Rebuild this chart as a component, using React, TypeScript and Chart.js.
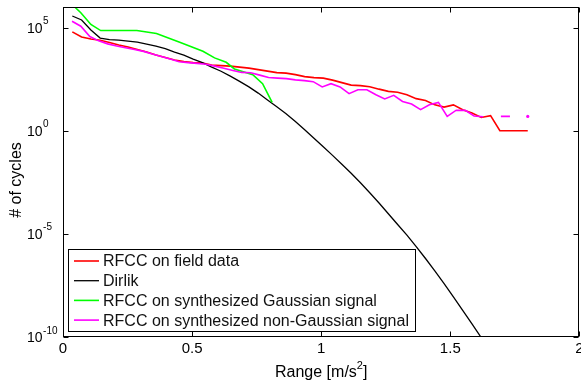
import { useEffect, useRef } from 'react';
import { Chart, registerables } from 'chart.js';

Chart.register(...registerables);

const FONT = '"Liberation Sans", Arial, Helvetica, sans-serif';

// Range bins of the field data (m/s^2)
const RANGE_FIELD = [
  0.036, 0.072, 0.108, 0.144, 0.18, 0.216, 0.252, 0.288, 0.324, 0.36,
  0.396, 0.432, 0.468, 0.504, 0.54, 0.576, 0.612, 0.648, 0.684, 0.72,
  0.756, 0.792, 0.828, 0.864, 0.9, 0.936, 0.972, 1.008, 1.044, 1.08,
  1.116, 1.152, 1.188, 1.224, 1.26, 1.296, 1.332, 1.368, 1.404, 1.44,
  1.476, 1.512, 1.548, 1.584, 1.62, 1.656, 1.692, 1.728, 1.764, 1.8,
];

// Range bins of the synthesized signals
const RANGE_SYNTH = [
  0.035, 0.069, 0.104, 0.138, 0.173, 0.208, 0.242, 0.277, 0.312, 0.346,
  0.381, 0.415, 0.45, 0.485, 0.519, 0.554, 0.588, 0.623, 0.658, 0.692,
  0.727, 0.762, 0.796, 0.831, 0.865, 0.9, 0.935, 0.969, 1.004, 1.038,
  1.073, 1.108, 1.142, 1.177, 1.212, 1.246, 1.281, 1.315, 1.35, 1.385,
  1.419, 1.454, 1.488, 1.523, 1.558, 1.592, 1.627, 1.662, 1.696, 1.731,
  1.765, 1.8,
];

const RFCC_FIELD = [
  6.25e4, 3.49e4, 2.79e4, 2.44e4, 1.89e4, 1.43e4, 1.14e4, 8630, 6520, 4670,
  3520, 2670, 2250, 2010, 1910, 1520, 1440, 1360, 1220, 1090,
  920, 778, 658, 622, 526, 421, 376, 356, 284, 215,
  163, 154, 137, 104, 81, 74, 56, 36, 29, 18,
  14, 18, 10.5, 7.2, 4.4, 5.4, 1, 1, 1, 1,
];

const DIRLIK = [
  3.66e5, 2.34e5, 7.64e4, 3.13e4, 2.64e4, 2.5e4, 2.23e4, 2.0e4, 1.6e4, 1.28e4,
  9600, 6520, 4670, 2980, 2010, 1220, 769, 443, 249, 134,
  67.0, 31.3, 14.7, 6.7, 2.79, 1.11, 0.432, 0.168, 0.064, 0.0238,
  8.63e-3, 2.99e-3, 9.91e-4, 3.13e-4, 9.46e-5, 2.86e-5, 8.63e-6, 2.43e-6, 6.4e-7, 1.61e-7,
  3.85e-8, 8.83e-9, 1.98e-9, 4.33e-10, 9.25e-11, 1.93e-11,
];

const GAUSS_X = [0.036, 0.069, 0.108, 0.146, 0.286, 0.362, 0.452, 0.542, 0.587, 0.632, 0.664, 0.735, 0.773, 0.81];
const RFCC_GAUSS = [1.3e6, 5.24e5, 1.42e5, 7.2e4, 7.2e4, 5.17e4, 1.95e4, 7130, 3410, 2080, 996, 526, 192, 23.7];

const RFCC_NONGAUSS: (number | null)[] = [
  2.05e5, 1.17e5, 3.7e4, 2.28e4, 1.63e4, 1.28e4, 1.06e4, 8630, 7050, 5210,
  3940, 2980, 2200, 2010, 1840, 1670, 1360, 1080, 841, 673,
  644, 498, 385, 356, 336, 294, 269, 240, 133, 192,
  133, 62.8, 98, 98, 56, 34.7, 51.9, 26.5, 19.8, 10.5,
  18.3, 23.7, 4.95, 9.9, 9.7, 5.2, 4.8, null, 4.95, 4.95,
  null, 4.95,
];

const X_TICKS = [0, 0.5, 1, 1.5, 2];
const X_TICK_LABELS = ['0', '0.5', '1', '1.5', '2'];
const Y_TICK_EXPONENTS = [5, 0, -5, -10];

const SERIES_LABELS = [
  'RFCC on field data',
  'Dirlik',
  'RFCC on synthesized Gaussian signal',
  'RFCC on synthesized non-Gaussian signal',
];
const SERIES_COLORS = ['#ff0000', '#000000', '#00ff00', '#ff00ff'];

const matlabAxes = {
  id: 'matlabAxes',
  beforeDraw(chart: any) {
    const { ctx, width, height } = chart;
    ctx.save();
    ctx.fillStyle = '#ffffff';
    ctx.fillRect(0, 0, width, height);
    ctx.restore();
  },
  afterDraw(chart: any) {
    const { ctx, chartArea: a, scales } = chart;
    const xs = scales.x;
    const ys = scales.y;
    const L = Math.round(a.left) + 0.5;
    const R = Math.round(a.right) - 0.5;
    const T = Math.round(a.top) + 0.5;
    const B = Math.round(a.bottom) - 0.5;
    ctx.save();
    ctx.strokeStyle = '#000';
    ctx.lineWidth = 1;
    ctx.strokeRect(L, T, R - L, B - T);
    const tl = 5;
    ctx.beginPath();
    X_TICKS.forEach((v) => {
      const px = Math.round(xs.getPixelForValue(v)) + 0.5;
      ctx.moveTo(px, B);
      ctx.lineTo(px, B - tl);
      ctx.moveTo(px, T);
      ctx.lineTo(px, T + tl);
    });
    Y_TICK_EXPONENTS.forEach((e) => {
      const py = Math.round(ys.getPixelForValue(Math.pow(10, e))) + 0.5;
      ctx.moveTo(L, py);
      ctx.lineTo(L + tl, py);
      ctx.moveTo(R, py);
      ctx.lineTo(R - tl, py);
    });
    ctx.stroke();

    ctx.fillStyle = '#000';
    // x tick labels
    ctx.font = `15px ${FONT}`;
    ctx.textAlign = 'center';
    ctx.textBaseline = 'alphabetic';
    X_TICKS.forEach((v, i) => {
      ctx.fillText(X_TICK_LABELS[i], xs.getPixelForValue(v), 353);
    });
    // y tick labels 10^e
    ctx.textAlign = 'left';
    Y_TICK_EXPONENTS.forEach((e) => {
      const py = ys.getPixelForValue(Math.pow(10, e));
      ctx.font = `14px ${FONT}`;
      ctx.fillText('10', 27, py + 5);
      const w = ctx.measureText('10').width;
      ctx.font = `10px ${FONT}`;
      ctx.fillText(String(e), 27 + w + 0.5, py - 3.5);
    });
    // x title
    const cx = (a.left + a.right) / 2;
    ctx.font = `16px ${FONT}`;
    const p1 = 'Range [m/s';
    const p3 = ']';
    const w1 = ctx.measureText(p1).width;
    const w3 = ctx.measureText(p3).width;
    ctx.font = `11px ${FONT}`;
    const w2 = ctx.measureText('2').width;
    const sx = cx - (w1 + w2 + w3) / 2;
    ctx.font = `16px ${FONT}`;
    ctx.fillText(p1, sx, 376.5);
    ctx.font = `11px ${FONT}`;
    ctx.fillText('2', sx + w1, 369);
    ctx.font = `16px ${FONT}`;
    ctx.fillText(p3, sx + w1 + w2, 376.5);
    // y title
    ctx.save();
    ctx.translate(21, 180);
    ctx.rotate(-Math.PI / 2);
    ctx.textAlign = 'center';
    ctx.fillText('# of cycles', 0, 0);
    ctx.restore();

    // legend
    const lx = 68.5, ly = 249.5, lw = 347, lh = 82;
    ctx.fillStyle = '#ffffff';
    ctx.fillRect(lx, ly, lw, lh);
    ctx.strokeStyle = '#000';
    ctx.lineWidth = 1;
    ctx.strokeRect(lx, ly, lw, lh);
    ctx.font = `16px ${FONT}`;
    ctx.textBaseline = 'middle';
    ctx.textAlign = 'left';
    chart.data.datasets.forEach((ds: any, i: number) => {
      const ry = 261 + i * 19.7;
      ctx.strokeStyle = ds.borderColor;
      ctx.lineWidth = ds.borderWidth;
      ctx.beginPath();
      ctx.moveTo(74, ry);
      ctx.lineTo(99, ry);
      ctx.stroke();
      ctx.fillStyle = '#111';
      ctx.fillText(ds.label, 103, ry + 1);
    });
    ctx.restore();
  },
};

export default function App() {
  const ref = useRef<HTMLCanvasElement>(null);
  useEffect(() => {
    document.body.style.margin = '0';
    const canvas = ref.current;
    if (!canvas) return;
    const isolated = (ctx: any) => {
      const i = ctx.dataIndex;
      const d = RFCC_NONGAUSS;
      if (d[i] == null) return 0;
      const prev = i > 0 ? d[i - 1] : null;
      const next = i < d.length - 1 ? d[i + 1] : null;
      return prev == null && next == null ? 1.6 : 0;
    };
    const chart = new Chart(canvas, {
      type: 'line',
      data: {
        datasets: [
          {
            label: SERIES_LABELS[0],
            data: RANGE_FIELD.map((x, i) => ({ x, y: RFCC_FIELD[i] })),
            borderColor: SERIES_COLORS[0],
            borderWidth: 1.6,
            order: 4,
          },
          {
            label: SERIES_LABELS[1],
            data: DIRLIK.map((y, i) => ({ x: RANGE_FIELD[i], y })),
            borderColor: SERIES_COLORS[1],
            borderWidth: 1.3,
            order: 3,
          },
          {
            label: SERIES_LABELS[2],
            data: GAUSS_X.map((x, i) => ({ x, y: RFCC_GAUSS[i] })),
            borderColor: SERIES_COLORS[2],
            borderWidth: 1.6,
            order: 2,
          },
          {
            label: SERIES_LABELS[3],
            data: RANGE_SYNTH.map((x, i) => ({ x, y: RFCC_NONGAUSS[i] })),
            borderColor: SERIES_COLORS[3],
            backgroundColor: SERIES_COLORS[3],
            borderWidth: 1.6,
            order: 1,
            spanGaps: false,
            pointRadius: isolated,
            pointBorderWidth: 0,
          },
        ] as any,
      },
      options: {
        responsive: false,
        devicePixelRatio: 1,
        animation: false,
        events: [],
        layout: { padding: { top: 7, right: 1, left: 0, bottom: 0 } },
        elements: {
          line: { tension: 0, fill: false },
          point: { radius: 0, hoverRadius: 0 },
        },
        plugins: {
          legend: { display: false },
          tooltip: { enabled: false },
        },
        scales: {
          x: {
            type: 'linear',
            min: 0,
            max: 2,
            ticks: { display: false },
            grid: { display: false },
            border: { display: false },
            afterFit: (s: any) => {
              s.height = 46;
            },
          },
          y: {
            type: 'logarithmic',
            min: 1e-10,
            max: 1e6,
            ticks: { display: false },
            grid: { display: false },
            border: { display: false },
            afterFit: (s: any) => {
              s.width = 63;
            },
          },
        },
      } as any,
      plugins: [matlabAxes],
    });
    return () => chart.destroy();
  }, []);
  return (
    <div style={{ width: 581, height: 383 }}>
      <canvas ref={ref} width={581} height={383} style={{ display: 'block' }} />
    </div>
  );
}
